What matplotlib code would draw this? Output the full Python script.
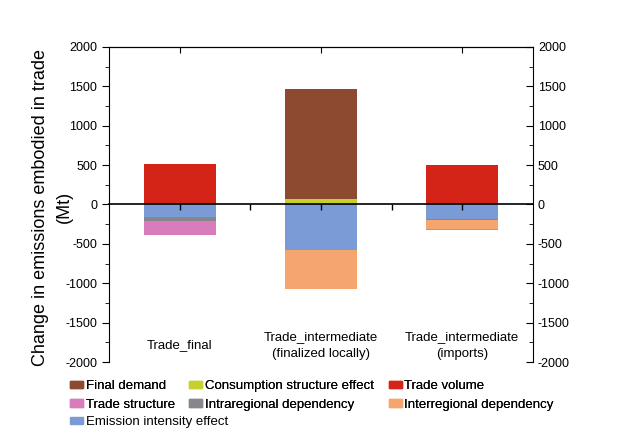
import numpy as np
import matplotlib.pyplot as plt
from matplotlib.patches import Patch

plt.rcParams['font.family'] = ['Liberation Sans', 'DejaVu Sans']
plt.rcParams['axes.unicode_minus'] = False

categories = ["Trade_final", "Trade_intermediate\n(finalized locally)", "Trade_intermediate\n(imports)"]

# Decomposition effects (Mt), one value per category
consumption_structure = [0, 75, 0]
final_demand = [0, 1390, 0]
trade_volume = [510, 0, 500]
emission_intensity = [-165, -575, -190]
intraregional = [-50, 0, -5]
interregional = [0, -495, -110]
trade_structure = [-170, 0, -20]

colors = {
    "Final demand": "#8D4A30",
    "Consumption structure effect": "#C6D02E",
    "Trade volume": "#D42418",
    "Trade structure": "#D87CBB",
    "Intraregional dependency": "#86868B",
    "Interregional dependency": "#F4A66E",
    "Emission intensity effect": "#7B9BD6",
}

pos_stack = [("Consumption structure effect", consumption_structure),
             ("Final demand", final_demand),
             ("Trade volume", trade_volume)]
neg_stack = [("Emission intensity effect", emission_intensity),
             ("Intraregional dependency", intraregional),
             ("Interregional dependency", interregional),
             ("Trade structure", trade_structure)]

fig = plt.figure(figsize=(6.17, 4.28), dpi=100)
ax = fig.add_axes([0.1767, 0.1542, 0.6871, 0.736])
x = np.arange(len(categories))
width = 0.51

bottom = np.zeros(len(categories))
for name, vals in pos_stack:
    v = np.array(vals, dtype=float)
    ax.bar(x, v, width, bottom=bottom, color=colors[name], linewidth=0)
    bottom += v
bottom = np.zeros(len(categories))
for name, vals in neg_stack:
    v = np.array(vals, dtype=float)
    ax.bar(x, v, width, bottom=bottom, color=colors[name], linewidth=0)
    bottom += v

ax.set_xlim(-0.5, 2.5)
ax.set_ylim(-2000, 2000)

# zero line as the bottom spine, ticks hanging down
ax.spines['bottom'].set_position(('data', 0))
ax.spines['bottom'].set_linewidth(1.2)
ax.spines['right'].set_visible(False)
ax.set_xticks(x)
ax.set_xticks([0.5, 1.5], minor=True)
ax.tick_params(axis='x', which='both', direction='out', length=4, width=1,
               labelbottom=False, top=False)

ax.set_yticks(np.arange(-2000, 2001, 500))
ax.set_yticks(np.arange(-1750, 2000, 500), minor=True)
ax.tick_params(axis='y', which='major', direction='out', length=5, labelsize=9)
ax.tick_params(axis='y', which='minor', direction='out', length=3)

top = ax.secondary_xaxis('top')
top.set_xticks(x)
top.tick_params(direction='in', length=4, labeltop=False)

ax2 = ax.twinx()
ax2.set_ylim(-2000, 2000)
ax2.set_yticks(np.arange(-2000, 2001, 500))
ax2.set_yticks(np.arange(-1750, 2000, 500), minor=True)
ax2.tick_params(axis='y', which='major', direction='in', length=5, labelsize=9)
ax2.tick_params(axis='y', which='minor', direction='in', length=3)
for s in ['top', 'bottom', 'left']:
    ax2.spines[s].set_visible(False)

for xi, label in zip(x, categories):
    ax.text(xi, -1790, label, ha='center', va='center', fontsize=9.5,
            multialignment='center', linespacing=1.5)

# y label, two lines placed separately
fig.text(0.066, 0.516, "Change in emissions embodied in trade",
         rotation=90, ha='center', va='center', fontsize=13)
fig.text(0.105, 0.516, "(Mt)", rotation=90, ha='center', va='center', fontsize=13)

order = ["Final demand", "Trade structure",
         "Consumption structure effect", "Intraregional dependency",
         "Trade volume", "Interregional dependency"]
leg_kw = dict(frameon=False, fontsize=9.5, handlelength=1.0, handleheight=0.45,
              handletextpad=0.2, columnspacing=1.1, labelspacing=0.5,
              borderpad=0, borderaxespad=0)
handles = [Patch(color=colors[n], label=n) for n in order]
leg1 = fig.legend(handles=handles, loc='upper left', bbox_to_anchor=(0.113, 0.112),
                  ncol=3, **leg_kw)
leg2 = fig.legend(handles=[Patch(color=colors["Emission intensity effect"],
                                 label="Emission intensity effect")],
                  loc='upper left', bbox_to_anchor=(0.113, 0.027), **leg_kw)
fig.add_artist(leg1)

fig.savefig("out.png", dpi=100)
